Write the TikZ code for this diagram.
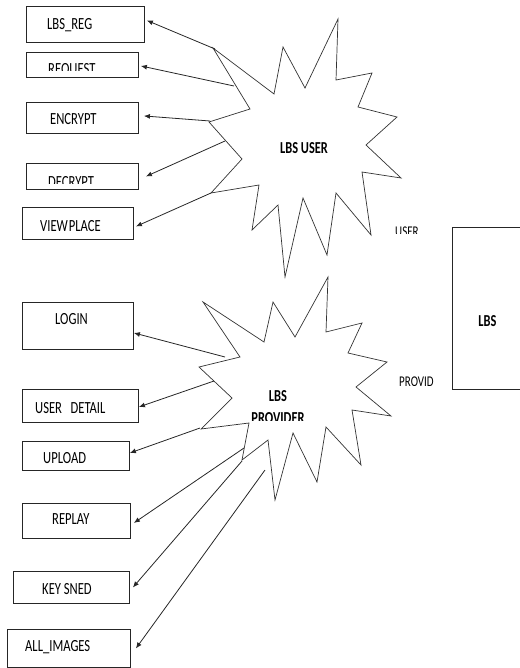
\documentclass[tikz,border=0pt]{standalone}
\usepackage{fontspec}
\setmainfont{Carlito}
\usepackage{graphicx}
\usepackage{tikz}
\usetikzlibrary{positioning, arrows.meta}

\newcommand{\tallt}[1]{\scalebox{1}[1.35]{#1}}

\begin{document}
\begin{tikzpicture}[
    x=1pt, y=-1pt,
    box/.style={draw=black!85, line width=0.9pt, inner sep=0pt, anchor=north west},
    lbl/.style={inner sep=0pt, font=\fontsize{12.6}{15}\selectfont, text=black},
    bold lbl/.style={inner sep=0pt, font=\fontsize{12.4}{22}\selectfont\bfseries},
    small lbl/.style={inner sep=0pt, anchor=north west, font=\fontsize{11}{13}\selectfont},
    star/.style={draw=black!80, line width=0.7pt, line join=miter},
    arr/.style={draw=black!85, line width=0.8pt, -{Latex[length=6pt,width=5pt]}}
]
\useasboundingbox (0,0) rectangle (519,668);

% --- Stars ---
\draw[star] (338,19) -- (336,80) -- (372,73) -- (358,107) -- (397,117) -- (366,145)
    -- (401,178) -- (362,172) -- (371,235) -- (336,193) -- (327,255) -- (303,198)
    -- (285,277) -- (278,205) -- (252,230) -- (259,185) -- (211,193) -- (242,159)
    -- (209,122) -- (250,109) -- (213,48) -- (274,94) -- (283,47) -- (305,88) -- cycle;
\draw[star] (328,277) -- (326,332) -- (362,323) -- (348,353) -- (387,362) -- (356,387)
    -- (391,416) -- (352,410) -- (361,465) -- (326,427) -- (317,482) -- (293,433)
    -- (275,500) -- (268,440) -- (242,460) -- (249,423) -- (201,429) -- (232,398)
    -- (199,367) -- (240,357) -- (203,302) -- (264,342) -- (273,302) -- (295,337) -- cycle;

\node[bold lbl] (user) at (304,148) {\tallt{LBS USER}};
\begin{scope}
    \clip (200,380) rectangle (400,420);
    \node[bold lbl, align=center, anchor=north] (provider) at (278,390) {\tallt{LBS}\\\tallt{PROVIDER}};
\end{scope}

% --- User side boxes ---
\node[box, minimum width=118pt, minimum height=36pt] (reg) at (26,6) {};
\node[box, minimum width=112pt, minimum height=25pt] (req) at (26,52) {};
\node[box, minimum width=112pt, minimum height=31pt] (enc) at (26,102) {};
\node[box, minimum width=112pt, minimum height=26pt] (dec) at (26,163) {};
\node[box, minimum width=111pt, minimum height=32pt] (view) at (22,207) {};

\node[lbl, below right=12pt and 21pt of reg.north west] (regt) {\tallt{LBS\_REG}};
\begin{scope}
    \clip (req.north west) rectangle ([yshift=7pt]req.south east);
    \node[lbl, below right=11pt and 22pt of req.north west] (reqt) {\tallt{REQUEST}};
\end{scope}
\node[lbl, below right=11pt and 24pt of enc.north west] (enct) {\tallt{ENCRYPT}};
\begin{scope}
    \clip (dec.north west) rectangle ([yshift=6pt]dec.south east);
    \node[lbl, below right=13pt and 22pt of dec.north west] (dect) {\tallt{DECRYPT}};
\end{scope}
\node[lbl, below right=13pt and 18pt of view.north west] (viewt) {\tallt{VIEW\hspace{1pt}PLACE}};

% --- Provider side boxes ---
\node[box, minimum width=111pt, minimum height=47pt] (login) at (22,302) {};
\node[box, minimum width=116pt, minimum height=33pt] (detail) at (22,389) {};
\node[box, minimum width=107pt, minimum height=29pt] (upload) at (22,441) {};
\node[box, minimum width=108pt, minimum height=35pt] (replay) at (22,503) {};
\node[box, minimum width=116pt, minimum height=32pt] (keysned) at (13,571) {};
\node[box, minimum width=123pt, minimum height=38pt] (allimg) at (7,629) {};

\node[lbl, below right=11pt and 33pt of login.north west] (logint) {\tallt{LOGIN}};
\node[lbl, below right=13pt and 13pt of detail.north west] (detailt) {\tallt{USER\ \ \ DETAIL}};
\node[lbl, below right=11pt and 21pt of upload.north west] (uploadt) {\tallt{UPLOAD}};
\node[lbl, below right=10pt and 30pt of replay.north west] (replayt) {\tallt{REPLAY}};
\node[lbl, below right=12pt and 29pt of keysned.north west] (keysnedt) {\tallt{KEY SNED}};
\node[lbl, below right=11pt and 18pt of allimg.north west] (allimgt) {\tallt{ALL\_IMAGES}};

% --- LBS box and side labels ---
\node[box, minimum width=70pt, minimum height=162pt] (lbs) at (452,227) {};
\node[bold lbl, anchor=north] (lbst) at ([yshift=-88pt]lbs.north) {\tallt{LBS}};
\begin{scope}
    \clip (390,220) rectangle (440,233);
    \node[small lbl] (usrlbl) at (395,227) {\tallt{USER}};
\end{scope}
\begin{scope}
    \clip (390,370) rectangle (445,385);
    \node[small lbl] (provlbl) at (399,377) {\tallt{PROVID}};
\end{scope}

% --- Arrow starts on the stars ---
\coordinate (u1) at (215,49);
\coordinate (u2) at (234,86);
\coordinate (u3) at (210,121);
\coordinate (u4) at (225,141);
\coordinate (u5) at (211,193);
\coordinate (p1) at (225,357);
\coordinate (p2) at (214,381);
\coordinate (p3) at (200,428);
\coordinate (p4) at (244,448);
\coordinate (p5) at (242,461);
\coordinate (p6) at (265,470);

% --- Arrows ---
\draw[arr] (u1) -- ([xshift=2pt,yshift=4pt]reg.east);
\draw[arr] (u2) -- ([xshift=2pt,yshift=-1pt]req.east);
\draw[arr] (u3) -- ([xshift=5pt,yshift=2pt]enc.east);
\draw[arr] (u4) -- ([xshift=7pt]dec.east);
\draw[arr] (u5) -- ([xshift=2pt,yshift=-3pt]view.east);
\draw[arr] (p1) -- ([yshift=-7pt]login.east);
\draw[arr] (p2) -- ([yshift=-1pt]detail.east);
\draw[arr] (p3) -- ([yshift=3pt]upload.east);
\draw[arr] (p4) -- ([xshift=3pt,yshift=-2pt]replay.east);
\draw[arr] (p5) -- ([xshift=3pt]keysned.east);
\draw[arr] (p6) -- ([xshift=5pt]allimg.east);

\end{tikzpicture}
\end{document}
